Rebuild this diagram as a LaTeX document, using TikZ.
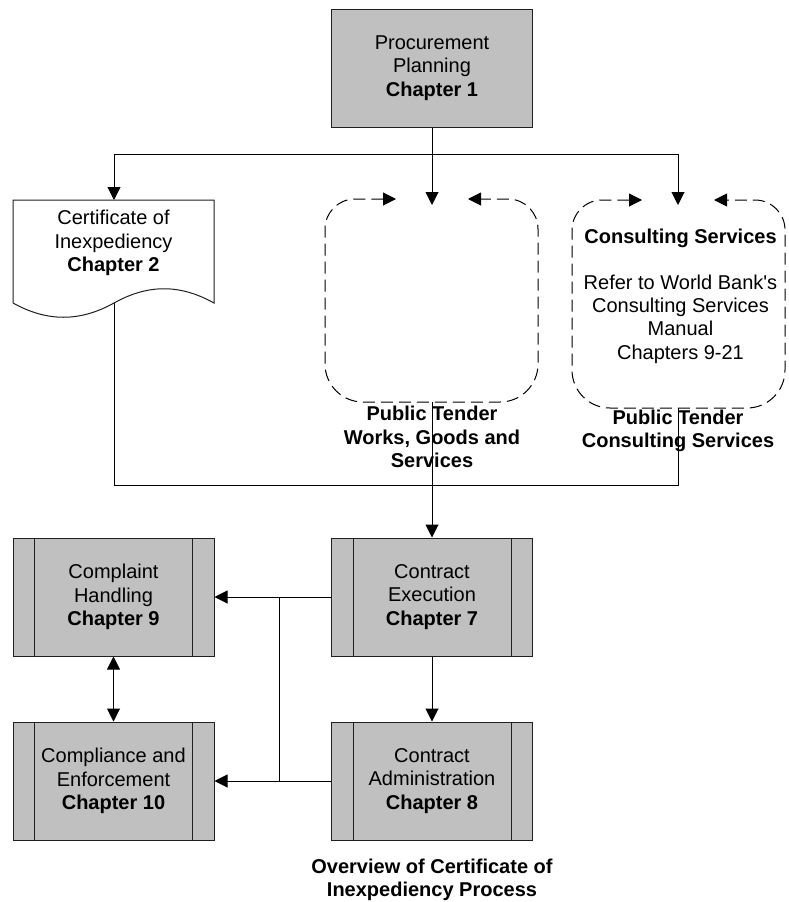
\documentclass[tikz,border=0pt]{standalone}
\usepackage{fontspec}
\setmainfont{Liberation Sans}
% same family without TeX input ligatures, for a straight apostrophe
\newfontfamily\plainfont{Liberation Sans}
\usetikzlibrary{arrows.meta}
\definecolor{boxgray}{HTML}{C0C0C0}
\definecolor{edge}{HTML}{202020}

\begin{document}
\begin{tikzpicture}[x=1pt,y=-1pt,
  every node/.style={font=\fontsize{20}{23.2}\selectfont, align=center, inner sep=0pt},
  line/.style={draw=black, line width=1pt},
  arr/.style={line, -{Triangle[length=13pt,width=13pt]}},
  dblarr/.style={line, {Triangle[length=13pt,width=13pt]}-{Triangle[length=13pt,width=13pt]}},
  graybox/.style={draw=edge, fill=boxgray, line width=1pt, minimum width=201pt, minimum height=118pt},
  pproc/.style={graybox, path picture={
      \draw[edge, line width=1pt]
        ([xshift=21.5pt]path picture bounding box.north west) -- ([xshift=21.5pt]path picture bounding box.south west)
        ([xshift=-21.5pt]path picture bounding box.north east) -- ([xshift=-21.5pt]path picture bounding box.south east);}},
  docshape/.style={draw=edge, fill=white, line width=1pt},
  loopline/.style={line, dash pattern=on 12pt off 6pt,
      {Triangle[length=13pt,width=13pt]}-{Triangle[length=13pt,width=13pt]}},
  frame/.style={minimum width=213pt, minimum height=203pt},
  caption/.style={font=\fontsize{20}{23.2}\selectfont\bfseries}
]
\useasboundingbox (0,0) rectangle (789,902);

% ---- process boxes ----
\node[graybox] (plan) at (432,68) {Procurement\\Planning\\\textbf{Chapter 1}};
\node[pproc] (comp)  at (113.5,597) {Complaint\\Handling\\\textbf{Chapter 9}};
\node[pproc] (exec)  at (432,597)   {Contract\\Execution\\\textbf{Chapter 7}};
\node[pproc] (compl) at (113.5,781) {Compliance and\\Enforcement\\\textbf{Chapter 10}};
\node[pproc] (admin) at (432,781)   {Contract\\Administration\\\textbf{Chapter 8}};

% ---- document shape ----
\draw[docshape] (13,200) -- (214,200) -- (214,303)
  .. controls (180,284) and (148,284) .. (114,303)
  .. controls (80,322) and (47,322) .. (13,303) -- cycle;
\node (cert) at (113.5,243) {Certificate of\\Inexpediency\\\textbf{Chapter 2}};
\coordinate (certtop) at (114,200);
\coordinate (certbot) at (114,303);

% ---- dashed tender loops ----
\node[frame] (pt1) at (432,300.5) {};
\node[frame, minimum height=208pt] (pt2) at (678,304) {};
\draw[loopline] (396,199) -- (355,199) .. controls (338.4,199) and (325,212.4) .. (325,229)
  -- (325,364) .. controls (325,385) and (342,402) .. (363,402)
  -- (500,402) .. controls (521,402) and (538,385) .. (538,364)
  -- (538,229) .. controls (538,212.4) and (524.6,199) .. (508,199) -- (468,199);
\draw[loopline] (642,200) -- (602,200) .. controls (585.4,200) and (572,213.4) .. (572,230)
  -- (572,370) .. controls (572,391) and (589,408) .. (610,408)
  -- (747,408) .. controls (768,408) and (785,391) .. (785,370)
  -- (785,230) .. controls (785,213.4) and (771.6,200) .. (755,200) -- (714,200);

\node (cstext) at (680.5,296) {\textbf{Consulting Services}\\\mbox{}\\Refer to World Bank{\plainfont '}s\\Consulting Services\\Manual\\Chapters 9-21};
\node[caption] (pt1lab) at (432,437) {Public Tender\\Works, Goods and\\Services};
\node[caption] (pt2lab) at (678,431) {Public Tender\\Consulting Services};
\node[caption] (title) at (432,880) {Overview of Certificate of\\Inexpediency Process};

% ---- connectors ----
\coordinate (bus) at (432,154);
\coordinate (pt1in) at (432,205);
\coordinate (pt2in) at (678,205);
\coordinate (ret) at (678,485);
\coordinate (jt) at (279,597);
\coordinate (jb) at (279,781);

\draw[line] (plan.south) -- (bus);
\draw[arr] (bus) -| (certtop);
\draw[arr] (bus) -- (pt1in);
\draw[arr] (bus) -| (pt2in);
\draw[line] (certbot) |- (ret) -- (pt2.south);
\draw[arr] (pt1.south) -- (exec.north);
\draw[arr] (exec.west) -- (comp.east);
\draw[arr] (admin.west) -- (compl.east);
\draw[line] (jt) -- (jb);
\draw[arr] (exec.south) -- (admin.north);
\draw[dblarr] (comp.south) -- (compl.north);
\end{tikzpicture}
\end{document}
